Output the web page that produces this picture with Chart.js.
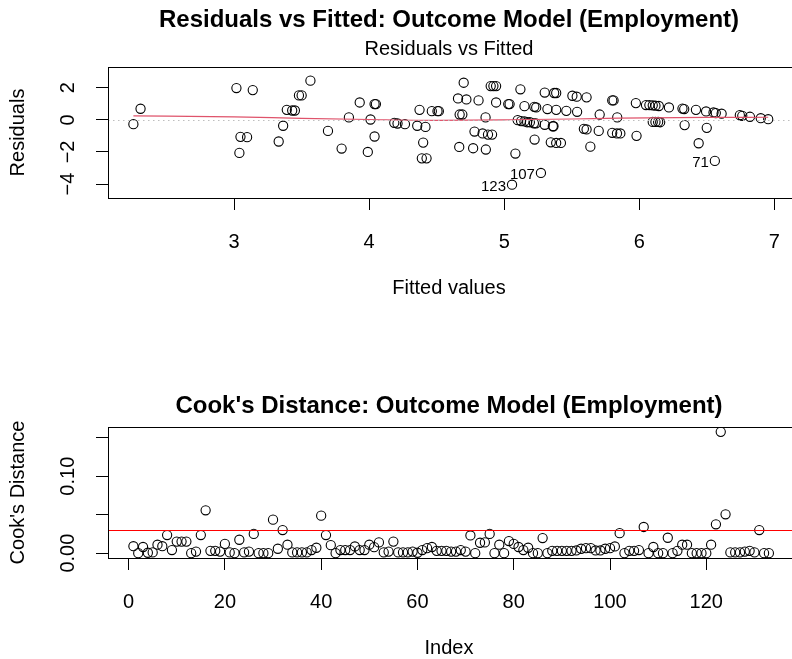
<!DOCTYPE html>
<html>
<head>
<meta charset="utf-8">
<script src="https://cdn.jsdelivr.net/npm/chart.js@4.4.1/dist/chart.umd.min.js"></script>
<style>
  html, body { margin: 0; padding: 0; background: #fff; overflow: hidden; }
  #wrap { position: relative; width: 792px; height: 659px; overflow: hidden; }
  canvas { position: absolute; left: 0; }
</style>
</head>
<body>
<div id="wrap">
  <canvas id="resid" width="800" height="330" style="top:0"></canvas>
  <canvas id="cook" width="800" height="329" style="top:330px"></canvas>
</div>
<script>
// Residuals vs fitted
const fittedVals = [
  2.254, 2.307, 3.017, 3.138, 3.047, 3.096, 3.039, 3.330, 3.363, 3.390,
  3.430, 3.450, 3.480, 3.500, 3.565, 3.695, 3.796, 3.850, 3.930, 4.040,
  4.050, 4.010, 4.040, 3.990, 4.186, 4.210, 4.265, 4.356, 4.417, 4.373,
  4.464, 4.506, 4.516, 4.400, 4.390, 4.425, 4.667, 4.658, 4.700, 4.670,
  4.690, 4.720, 4.810, 4.862, 4.780, 4.840, 4.880, 4.910, 4.770, 4.864,
  4.900, 4.920, 4.940, 4.940, 5.030, 5.040, 5.120, 5.083, 5.058, 5.272,
  5.150, 5.100, 5.125, 5.150, 5.170, 5.190, 5.220, 5.235, 5.223, 5.237,
  5.225, 5.300, 5.370, 5.385, 5.320, 5.385, 5.460, 5.540, 5.300, 5.360,
  5.365, 5.345, 5.385, 5.420, 5.505, 5.537, 5.610, 5.638, 5.590, 5.610,
  5.700, 5.707, 5.800, 5.810, 5.837, 5.800, 5.835, 5.860, 5.980, 5.975,
  6.050, 6.075, 6.100, 6.120, 6.145, 6.220, 6.100, 6.120, 6.140, 6.155,
  6.320, 6.333, 6.336, 6.420, 6.495, 6.550, 6.567, 6.610, 6.440, 6.500,
  6.560, 6.745, 6.763, 6.820, 6.900, 6.955
];
const residVals = [
  -0.27, 0.69, 1.98, 1.85, -1.06, -1.08, -2.06, -1.35, -0.37, 0.62,
  0.58, 0.58, 1.52, 1.52, 2.44, -0.69, -1.79, 0.15, 1.08, 0.98,
  0.98, 0.02, -1.04, -2.00, -0.19, -0.23, -0.27, -0.37, -0.44, 0.62,
  0.54, 0.54, 0.54, -1.42, -2.40, -2.40, -1.69, 1.33, 2.31, 0.33,
  0.33, 1.27, 1.21, 0.15, -0.73, -0.85, -0.92, -0.92, -1.77, -1.85,
  2.10, 2.10, 2.10, 1.08, 0.98, 0.98, 1.90, -2.10, -4.04, -3.31,
  0.85, -0.02, -0.08, -0.10, -0.15, -0.15, -0.22, -0.22, 0.81, 0.77,
  -1.23, 1.70, 1.67, 1.67, 0.67, 0.62, 0.56, 0.50, -0.31, -0.40,
  -0.40, -1.40, -1.44, -1.44, 1.50, 1.44, 1.40, -1.67, -0.56, -0.60,
  -0.69, 0.33, 1.21, 1.21, 0.15, -0.81, -0.85, -0.85, -1.00, 1.04,
  0.92, 0.92, 0.90, 0.88, 0.86, 0.77, -0.13, -0.13, -0.13, -0.15,
  0.70, 0.67, -0.33, 0.62, 0.52, 0.46, 0.42, 0.38, -1.46, -0.50,
  -2.56, 0.29, 0.25, 0.19, 0.10, 0.04
];
// lowess smoother
const smoothX = [2.254, 3.0, 3.5, 4.0, 4.5, 4.75, 5.0, 5.5, 5.85, 6.5, 6.955];
const smoothY = [0.25, 0.18, 0.09, 0.02, -0.03, -0.02, 0.0, 0.05, 0.10, 0.15, 0.16];
// labelled observations
const idNames = ['123', '107', '71'];
const idFitted = [5.058, 5.272, 6.560];
const idResid = [-4.04, -3.31, -2.56];

const fitTicks = [3, 4, 5, 6, 7];
const residTicks = [-4, -2, 0, 2];
const residTickLabels = ['\u22124', '\u22122', '0', '2'];

// Cook's distance by observation index
const cookVals = [
  0.009, 0.0, 0.008, 0.0005, 0.001, 0.011, 0.009, 0.0235, 0.004, 0.015,
  0.015, 0.015, 0.0, 0.002, 0.0235, 0.0557, 0.003, 0.003, 0.002, 0.012,
  0.001, 0.0, 0.0174, 0.001, 0.002, 0.025, 0.0, 0.0, 0.0, 0.0435,
  0.0057, 0.030, 0.011, 0.001, 0.001, 0.001, 0.001, 0.004, 0.007, 0.0487,
  0.0235, 0.0104, 0.0, 0.004, 0.004, 0.004, 0.0087, 0.004, 0.004, 0.011,
  0.0078, 0.014, 0.001, 0.002, 0.015, 0.001, 0.001, 0.001, 0.002, 0.0005,
  0.004, 0.0065, 0.008, 0.003, 0.003, 0.003, 0.002, 0.002, 0.004, 0.002,
  0.023, 0.0, 0.0135, 0.014, 0.025, 0.0, 0.011, 0.0, 0.0157, 0.012,
  0.008, 0.004, 0.007, 0.0, 0.0, 0.0196, 0.0, 0.003, 0.003, 0.003,
  0.003, 0.003, 0.0035, 0.0057, 0.0065, 0.0065, 0.0035, 0.0035, 0.0057, 0.0065,
  0.0087, 0.026, 0.0, 0.003, 0.003, 0.004, 0.034, 0.0, 0.008, 0.0,
  0.0, 0.020, 0.0, 0.003, 0.011, 0.011, 0.0, 0.0, 0.0, 0.0,
  0.011, 0.0375, 0.1576, 0.0505, 0.001, 0.001, 0.001, 0.002, 0.003, 0.001,
  0.030, 0.0, 0.0
];
const cookCutoff = 0.0301;
const indexTicks = [0, 20, 40, 60, 80, 100, 120];
const cookTicks = [0, 0.05, 0.10, 0.15];
const cookTickLabels = ['0.00', '', '0.10', ''];

const FONT = "'Liberation Sans', Arial, Helvetica, sans-serif";
Chart.defaults.font.family = FONT;
Chart.defaults.color = '#000';

// R-style frame: box, reference lines, titles, rotated y labels
const rFrame = {
  id: 'rFrame',
  afterDatasetsDraw(chart, args, o) {
    const { ctx, chartArea: a, scales: { y } } = chart;
    ctx.save();
    ctx.beginPath();
    ctx.rect(a.left, a.top, a.right - a.left, a.bottom - a.top);
    ctx.clip();
    (o.hLines || []).forEach(h => {
      const py = Math.round(y.getPixelForValue(h.value)) + 0.5;
      ctx.strokeStyle = h.color;
      ctx.lineWidth = h.width;
      ctx.setLineDash(h.dash || []);
      ctx.beginPath();
      ctx.moveTo(a.left, py);
      ctx.lineTo(a.right, py);
      ctx.stroke();
    });
    ctx.restore();
  },
  afterDraw(chart, args, o) {
    const { ctx, chartArea: a, scales: { x, y } } = chart;
    ctx.save();
    ctx.strokeStyle = '#000';
    ctx.lineWidth = 1;
    ctx.strokeRect(Math.round(a.left) + 0.5, Math.round(a.top) + 0.5,
      Math.round(a.right - a.left), Math.round(a.bottom - a.top));

    ctx.fillStyle = '#000';
    ctx.textAlign = 'center';
    ctx.textBaseline = 'middle';
    ctx.font = 'bold 24px ' + FONT;
    ctx.fillText(o.title, o.centerX, o.titleY);
    if (o.subtitle) {
      ctx.font = '20px ' + FONT;
      ctx.fillText(o.subtitle, o.centerX, o.subtitleY);
    }
    ctx.font = '20px ' + FONT;
    ctx.fillText(o.xTitle, o.centerX, a.bottom + 90);

    // y tick labels, rotated like R's default las = 0
    o.yTicks.forEach((v, i) => {
      if (!o.yLabels[i]) return;
      ctx.save();
      ctx.translate(68, y.getPixelForValue(v));
      ctx.rotate(-Math.PI / 2);
      ctx.fillText(o.yLabels[i], 0, 0);
      ctx.restore();
    });
    ctx.save();
    ctx.translate(18, (a.top + a.bottom) / 2);
    ctx.rotate(-Math.PI / 2);
    ctx.fillText(o.yTitle, 0, 0);
    ctx.restore();

    if (o.ids) {
      ctx.font = '15px ' + FONT;
      ctx.textAlign = 'right';
      o.ids.names.forEach((t, i) => {
        ctx.fillText(t, x.getPixelForValue(o.ids.xs[i]) - 6, y.getPixelForValue(o.ids.ys[i]) + 2);
      });
    }
    ctx.restore();
  }
};

function rAxis(min, max, ticks, extra) {
  return Object.assign({
    type: 'linear',
    min: min,
    max: max,
    afterBuildTicks: s => { s.ticks = ticks.map(v => ({ value: v })); },
    grid: { drawOnChartArea: false, drawTicks: true, tickLength: 12, color: '#000', lineWidth: 1 },
    border: { display: false }
  }, extra);
}

const pointStyle = {
  pointRadius: 4.6,
  pointBorderColor: '#000',
  pointBackgroundColor: 'rgba(0,0,0,0)',
  pointBorderWidth: 1.1,
  showLine: false
};

new Chart(document.getElementById('resid'), {
  type: 'scatter',
  data: {
    datasets: [
      {
        type: 'line',
        data: smoothX.map((v, i) => ({ x: v, y: smoothY[i] })),
        borderColor: '#DF536B',
        borderWidth: 1.2,
        pointRadius: 0,
        cubicInterpolationMode: 'monotone'
      },
      Object.assign({ data: fittedVals.map((v, i) => ({ x: v, y: residVals[i] })) }, pointStyle)
    ]
  },
  options: {
    responsive: false,
    animation: false,
    events: [],
    layout: { padding: { top: 67, right: 3, left: 0, bottom: 0 } },
    plugins: {
      legend: { display: false },
      tooltip: { enabled: false },
      rFrame: {
        title: 'Residuals vs Fitted: Outcome Model (Employment)',
        subtitle: 'Residuals vs Fitted',
        titleY: 20,
        subtitleY: 49,
        centerX: 449,
        xTitle: 'Fitted values',
        yTitle: 'Residuals',
        yTicks: residTicks,
        yLabels: residTickLabels,
        hLines: [{ value: 0, color: '#BEBEBE', width: 1, dash: [1.5, 3.5] }],
        ids: { names: idNames, xs: idFitted, ys: idResid }
      }
    },
    scales: {
      x: rAxis(2.066, 7.143, fitTicks, {
        afterFit: s => { s.height = 132; },
        ticks: { color: '#000', font: { size: 20 }, padding: 20, maxRotation: 0, autoSkip: false }
      }),
      y: rAxis(-4.87, 3.29, residTicks, {
        afterFit: s => { s.width = 108; },
        ticks: { callback: () => '' }
      })
    }
  },
  plugins: [rFrame]
});

new Chart(document.getElementById('cook'), {
  type: 'scatter',
  data: {
    datasets: [
      Object.assign({ data: cookVals.map((v, i) => ({ x: i + 1, y: v })) }, pointStyle)
    ]
  },
  options: {
    responsive: false,
    animation: false,
    events: [],
    layout: { padding: { top: 97, right: 3, left: 0, bottom: 0 } },
    plugins: {
      legend: { display: false },
      tooltip: { enabled: false },
      rFrame: {
        title: "Cook's Distance: Outcome Model (Employment)",
        titleY: 76,
        centerX: 449,
        xTitle: 'Index',
        yTitle: "Cook's Distance",
        yTicks: cookTicks,
        yLabels: cookTickLabels,
        hLines: [{ value: cookCutoff, color: '#FF0000', width: 1.2 }]
      }
    },
    scales: {
      x: rAxis(-4.28, 138.28, indexTicks, {
        afterFit: s => { s.height = 101; },
        ticks: { color: '#000', font: { size: 20 }, padding: 20, maxRotation: 0, autoSkip: false }
      }),
      y: rAxis(-0.0063, 0.1639, cookTicks, {
        afterFit: s => { s.width = 108; },
        ticks: { callback: () => '' }
      })
    }
  },
  plugins: [rFrame]
});
</script>
</body>
</html>
